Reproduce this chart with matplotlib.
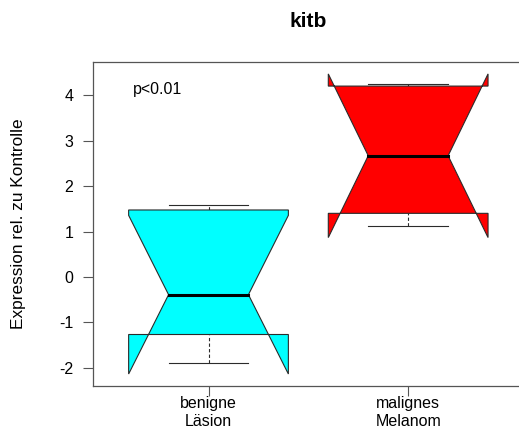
import numpy as np
import matplotlib.pyplot as plt

plt.rcParams["font.family"] = ["Liberation Sans", "DejaVu Sans"]

# summary statistics per group (notched boxplot, R style)
groups = ["benigne\nLäsion", "malignes\nMelanom"]
colors = ["#00FFFF", "#FF0000"]
lower_whisker = [-1.89, 1.13]
q1 = [-1.265, 1.40]
median = [-0.389, 2.667]
q3 = [1.474, 4.199]
upper_whisker = [1.585, 4.243]
notch = [1.745, 1.80]   # half height of the notch around the median

fig = plt.figure(figsize=(5.19, 4.28), dpi=100)
ax = fig.add_axes([0.1786, 0.0981, 0.831, 0.7577])

wb = 0.4        # half box width
wn = 0.5 * wb   # half width at the notch waist
ws = 0.2        # half staple width
edge = "#2b2b2b"

for i in range(len(groups)):
    x = i + 1
    nl = median[i] - notch[i]
    nu = median[i] + notch[i]
    # whiskers and staples
    ax.plot([x, x], [lower_whisker[i], q1[i]], color=edge, lw=0.8, ls=(0, (3, 2)))
    ax.plot([x, x], [q3[i], upper_whisker[i]], color=edge, lw=0.8, ls=(0, (3, 2)))
    ax.plot([x - ws, x + ws], [lower_whisker[i]] * 2, color=edge, lw=0.8)
    ax.plot([x - ws, x + ws], [upper_whisker[i]] * 2, color=edge, lw=0.8)
    # notched box polygon
    px = x + np.array([-wb, -wb, -wn, -wb, -wb, wb, wb, wn, wb, wb])
    py = np.array([q1[i], nl, median[i], nu, q3[i], q3[i], nu, median[i], nl, q1[i]])
    ax.fill(px, py, facecolor=colors[i], edgecolor=edge, lw=0.8, zorder=3)
    ax.plot([x - wn, x + wn], [median[i]] * 2, color="black", lw=2.2, zorder=4)

ax.set_xlim(0.42, 2.58)
ax.set_ylim(-2.398, 4.735)
ax.set_xticks([1, 2])
ax.set_xticklabels(groups, fontsize=11.5, linespacing=1.2)
ax.set_yticks(np.arange(-2, 5, 1))
ax.set_yticklabels([str(v) for v in range(-2, 5)], fontsize=11.5)
ax.tick_params(axis="y", length=7, width=0.8, color="#555555", pad=7)
ax.tick_params(axis="x", length=7, width=0.8, color="#555555", pad=0.5)
for s in ax.spines.values():
    s.set_color("#555555")
    s.set_linewidth(0.9)

ax.set_ylabel("Expression rel. zu Kontrolle", fontsize=12.4, va="center")
ax.yaxis.set_label_coords(-0.171, 0.5)
fig.text(0.5934, 0.9376, "kitb", fontsize=15, fontweight="bold", ha="center", va="baseline")
ax.text(0.6225, 4.13, "p<0.01", fontsize=11.5, va="center", ha="left")

fig.savefig("out.png", dpi=100)
